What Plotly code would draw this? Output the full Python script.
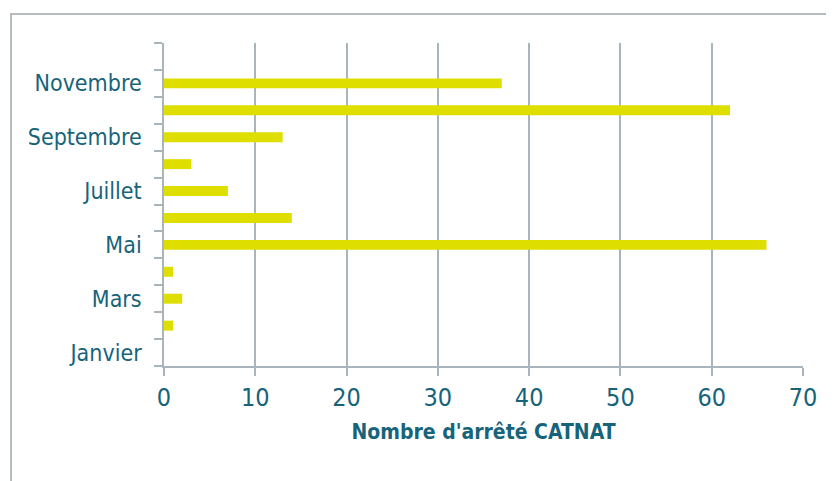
import plotly.graph_objects as go

mois = ["Janvier", "Février", "Mars", "Avril", "Mai", "Juin", "Juillet",
        "Août", "Septembre", "Octobre", "Novembre", "Décembre"]
nb_arretes = [0, 1, 2, 1, 66, 14, 7, 3, 13, 62, 37, 0]
x_ticks = [0, 10, 20, 30, 40, 50, 60, 70]
labels_affiches = [m if i % 2 == 0 else "" for i, m in enumerate(mois)]

texte = "#17647a"
gris = "#a9b5bd"

fig = go.Figure(go.Bar(x=nb_arretes, y=mois, orientation="h",
                       marker=dict(color="#dede00", line=dict(width=0)),
                       width=0.37))

# cadre autour du graphique
fig.add_shape(type="path", xref="paper", yref="paper",
              path="M -0.2394,-1 L -0.2394,1.0898 L 1.5,1.0898",
              line=dict(color="#9ea8ae", width=1.5))

fig.update_layout(
    width=834, height=481,
    margin=dict(l=156, r=39, t=35, b=123),
    paper_bgcolor="white", plot_bgcolor="white",
    font=dict(family="DejaVu Sans Condensed, Roboto, sans-serif", color=texte),
    showlegend=False,
    xaxis=dict(range=[0, 70], tickvals=x_ticks, showgrid=True, gridcolor=gris,
               gridwidth=1.5, zeroline=False, showline=True, linecolor=gris,
               linewidth=1.5, ticks="outside", ticklen=8, tickcolor=gris,
               tickwidth=1.5, tickfont=dict(size=25),
               title=dict(text="<b>Nombre d'arrêté CATNAT</b>",
                          font=dict(size=21), standoff=14)),
    yaxis=dict(categoryorder="array", categoryarray=mois, range=[-0.5, 11.5],
               tickvals=mois, ticktext=labels_affiches, tickson="boundaries",
               ticks="outside", ticklen=8, tickcolor=gris, tickwidth=1.5,
               showline=True, linecolor=gris, linewidth=1.5, showgrid=False,
               zeroline=False, tickfont=dict(size=23), ticklabelstandoff=16),
)

fig.write_html("out.html")
